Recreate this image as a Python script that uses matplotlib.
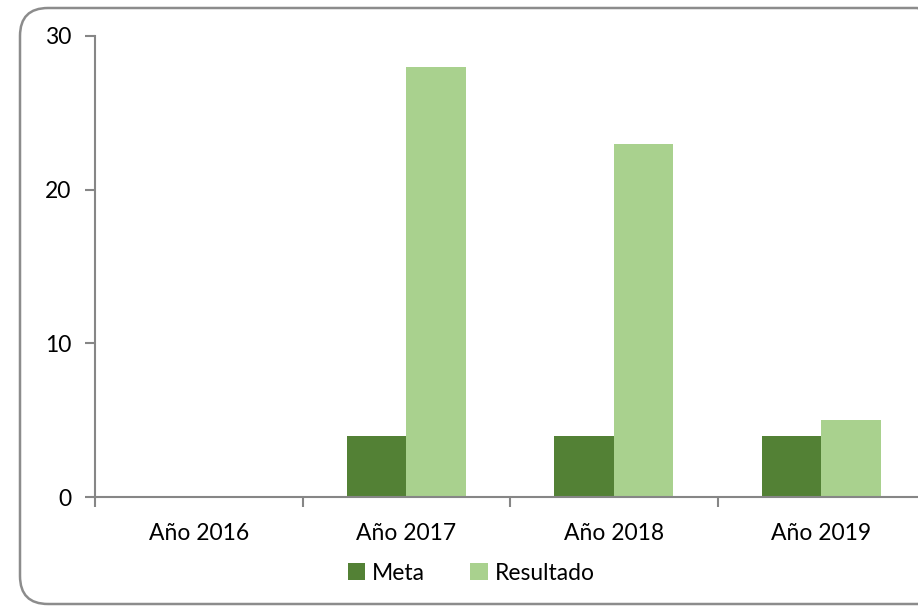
import matplotlib
matplotlib.use("Agg")
import matplotlib.pyplot as plt
from matplotlib.patches import FancyBboxPatch, Patch
from matplotlib.transforms import IdentityTransform
import numpy as np

categories = ["Año 2016", "Año 2017", "Año 2018", "Año 2019"]
meta = [0, 4, 4, 4]
resultado = [0, 28, 23, 5]
yticks = [0, 10, 20, 30]

c_meta = "#538135"
c_res = "#A9D18E"
gray = "#868686"

plt.rcParams['font.family'] = ['Lato', 'DejaVu Sans']

W, H = 918, 608
fig = plt.figure(figsize=(W/100, H/100), dpi=100)

# rounded chart border (pixel coordinates)
border = FancyBboxPatch((20, 4), 925, 596, boxstyle="round,pad=0,rounding_size=28",
                        transform=IdentityTransform(), facecolor="none",
                        edgecolor="#8c8c8c", linewidth=1.8, zorder=-1)
fig.patches.append(border)

ax = fig.add_axes([95/W, (H-497)/H, (925-95)/W, (497-36)/H])
ax.set_facecolor("none")

x = np.arange(len(categories))
w = 0.287
ax.bar(x - w/2, meta, width=w, color=c_meta, label="Meta", zorder=2)
ax.bar(x + w/2, resultado, width=w, color=c_res, label="Resultado", zorder=2)

fs = 16.5
ax.set_xlim(-0.5, len(categories) - 0.5)
ax.set_ylim(0, 30)
ax.set_yticks(yticks)
ax.set_yticklabels([str(v) for v in yticks], fontsize=fs, color="#000000")
ax.set_xticks(x)
ax.set_xticklabels(categories, fontsize=fs, color="#000000")
ax.tick_params(axis='x', length=0, pad=19)
ax.set_xticks(np.arange(len(categories)) - 0.5, minor=True)
ax.tick_params(axis='x', which='minor', length=7, color=gray, width=1.5, direction='out')
ax.tick_params(axis='y', length=7, color=gray, width=1.5, direction='out', pad=10)

for s in ['top', 'right']:
    ax.spines[s].set_visible(False)
for s in ['left', 'bottom']:
    ax.spines[s].set_color(gray)
    ax.spines[s].set_linewidth(1.5)

handles = [Patch(facecolor=c_meta, label="Meta"), Patch(facecolor=c_res, label="Resultado")]
fig.legend(handles=handles, loc='center', bbox_to_anchor=(471/W, 1 - 573/H), ncol=2,
           frameon=False, fontsize=fs, handlelength=0.75, handleheight=0.75,
           handletextpad=0.3, columnspacing=2.0)

fig.savefig("out.png", dpi=100)
